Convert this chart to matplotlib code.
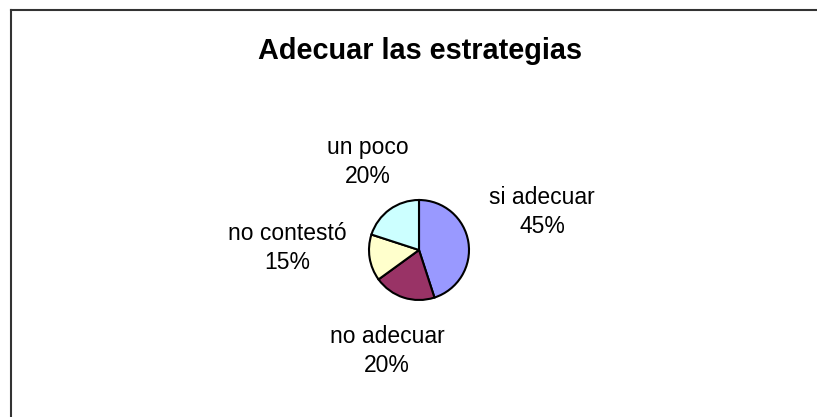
import matplotlib
matplotlib.use("Agg")
import matplotlib.pyplot as plt
from matplotlib.lines import Line2D

title = "Adecuar las estrategias"
categories = ["si adecuar", "no adecuar", "no contestó", "un poco"]
values = [45, 20, 15, 20]
colors = ["#9999FF", "#993366", "#FFFFCC", "#CCFFFF"]
label_pos = [(542, 212), (387, 351), (287, 248), (368, 162)]  # pixel centers (from top)

W, H = 817, 417
fig = plt.figure(figsize=(W / 100, H / 100), dpi=100)
ax = fig.add_axes([0, 0, 1, 1])
ax.set_xlim(0, W)
ax.set_ylim(0, H)
ax.set_aspect("equal")
ax.axis("off")

ax.pie(values, colors=colors, startangle=90, counterclock=False,
       center=(419, H - 250), radius=50,
       wedgeprops=dict(edgecolor="black", linewidth=1.5))
ax.set_xlim(0, W)
ax.set_ylim(0, H)

total = sum(values)
for cat, v, (x, y) in zip(categories, values, label_pos):
    ax.text(x, H - y, f"{cat}\n{round(100 * v / total)}%", ha="center", va="center",
            fontsize=16.5, family="Liberation Sans", linespacing=1.3)

ax.text(420, H - 51, title, ha="center", va="center", fontsize=20.8,
        fontweight="bold", family="Liberation Sans")

# chart border (top and left visible)
fig.add_artist(Line2D([10.5 / W, 1], [1 - 9.5 / H, 1 - 9.5 / H], transform=fig.transFigure,
                      color="#333333", linewidth=1.5))
fig.add_artist(Line2D([10.5 / W, 10.5 / W], [0, 1 - 9.5 / H], transform=fig.transFigure,
                      color="#333333", linewidth=1.5))

fig.savefig("out.png", dpi=100)
